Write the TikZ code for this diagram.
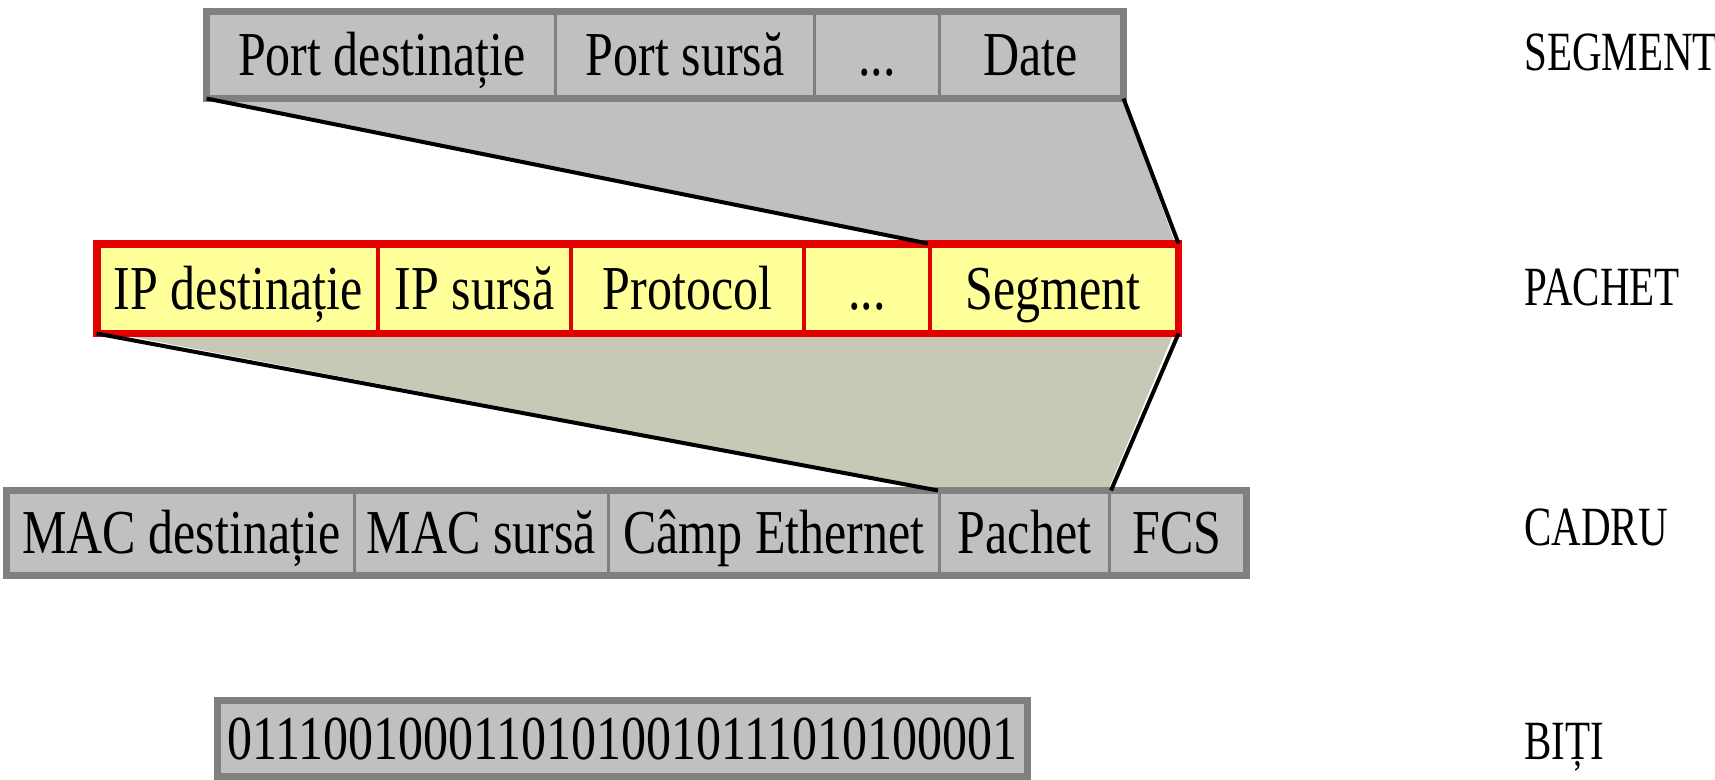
\documentclass[tikz,border=0pt]{standalone}
\usepackage{fontspec}
\usepackage{graphicx}
\setmainfont{Liberation Serif}
\definecolor{boxgray}{RGB}{192,192,192}
\definecolor{edgegray}{RGB}{128,128,128}
\definecolor{pktyellow}{RGB}{255,255,153}
\definecolor{pktred}{RGB}{226,0,0}
\definecolor{khaki}{RGB}{200,200,182}
\newcommand{\tallbox}[1]{\scalebox{1}[1.25]{#1}}
\newcommand{\talllbl}[1]{\scalebox{1}[1.35]{#1}}
\tikzset{
  cellg/.style={draw=edgegray, fill=boxgray, line width=3pt, inner sep=0pt, anchor=north west,
    minimum height=#1, text height=41pt, text depth=0pt, font=\fontsize{50}{60}\selectfont},
  cellg/.default=84pt,
  celly/.style={draw=pktred, fill=pktyellow, line width=4pt, inner sep=0pt, anchor=north west,
    minimum height=86pt, text height=41pt, text depth=0pt, font=\fontsize{50}{60}\selectfont},
  outerg/.style={draw=edgegray, line width=7pt},
  outery/.style={draw=pktred, line width=7pt},
  edge/.style={draw=black, line width=4pt},
  lbl/.style={anchor=base west, inner sep=0pt, font=\fontsize{41}{48}\selectfont},
}
\begin{document}
\begin{tikzpicture}[x=1pt,y=-1pt]
\useasboundingbox[fill=white] (0,0) rectangle (1715,779);

% funnels (drawn first, behind boxes)
\coordinate (s1) at (205,97);
\coordinate (s2) at (1122,97);
\coordinate (p3) at (928,243);
\coordinate (p4) at (1175,243);
\fill[boxgray] (s1) -- (s2) -- (p4) -- (p3) -- cycle;

\coordinate (q1) at (96,330);
\coordinate (q2) at (1175,330);
\coordinate (c3) at (938,490);
\coordinate (c4) at (1108,490);
\fill[khaki] (q1) -- (q2) -- (c4) -- (c3) -- cycle;

% SEGMENT row
\node[cellg, minimum width=347.5pt] (sPd) at (206.5,11.5) {\tallbox{Port destinație}};
\node[cellg, minimum width=259pt] (sPs) at (554,11.5) {\tallbox{Port sursă}};
\node[cellg, minimum width=125pt] (sDots) at (813,11.5) {\tallbox{...}};
\node[cellg, minimum width=182.5pt] (sDate) at (938,11.5) {\tallbox{Date}};
\draw[outerg] (sPd.north west) rectangle (sDate.south east);

% PACHET row
\node[celly, minimum width=279.5pt] (pIPd) at (96.5,243.5) {\tallbox{IP destinație}};
\node[celly, minimum width=193pt] (pIPs) at (376,243.5) {\tallbox{IP sursă}};
\node[celly, minimum width=233pt] (pProt) at (569,243.5) {\tallbox{Protocol}};
\node[celly, minimum width=126pt] (pDots) at (802,243.5) {\tallbox{...}};
\node[celly, minimum width=246.5pt] (pSeg) at (928,243.5) {\tallbox{Segment}};
\draw[outery] (pIPd.north west) rectangle (pSeg.south east);

% CADRU row
\node[cellg=82pt, minimum width=346.5pt] (cMd) at (6.5,490.5) {\tallbox{MAC destinație}};
\node[cellg=82pt, minimum width=254pt] (cMs) at (353,490.5) {\tallbox{MAC sursă}};
\node[cellg=82pt, minimum width=331pt] (cEth) at (607,490.5) {\tallbox{Câmp Ethernet}};
\node[cellg=82pt, minimum width=170pt] (cPach) at (938,490.5) {\tallbox{Pachet}};
\node[cellg=82pt, minimum width=135.5pt] (cFcs) at (1108,490.5) {\tallbox{FCS}};
\draw[outerg] (cMd.north west) rectangle (cFcs.south east);

% BITI row
\node[cellg=73pt, minimum width=807pt] (bits) at (217.5,700.5) {\tallbox{01110010001101010010111010100001}};
\draw[outerg] (bits.north west) rectangle (bits.south east);

% funnel edges
\draw[edge] (sPd.south west) -- (pSeg.north west);
\draw[edge] (sDate.south east) -- (pSeg.north east);
\draw[edge] (pIPd.south west) -- (cPach.north west);
\draw[edge] (pSeg.south east) -- (cPach.north east);

% labels
\node[lbl] (lSeg) at (1524,70) {\talllbl{SEGMENT}};
\node[lbl] (lPac) at (1524,305) {\talllbl{PACHET}};
\node[lbl] (lCad) at (1524,545) {\talllbl{CADRU}};
\node[lbl] (lBit) at (1524,759) {\talllbl{BIȚI}};
\end{tikzpicture}
\end{document}
